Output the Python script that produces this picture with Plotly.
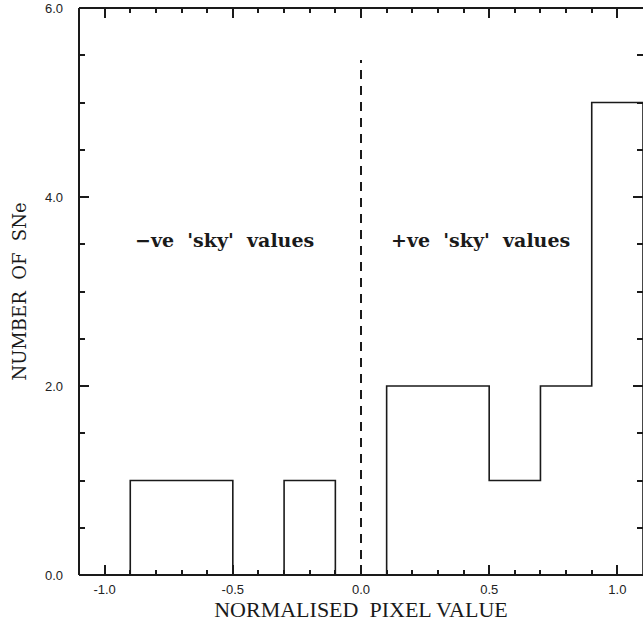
import plotly.graph_objects as go

# Histogram of normalised pixel values at supernova positions
bin_edges = [-0.9, -0.7, -0.5, -0.3, -0.1, 0.1, 0.3, 0.5, 0.7, 0.9, 1.1]
counts = [1, 1, 0, 1, 0, 2, 2, 1, 2, 5]

x_ticks = [-1.0, -0.5, 0.0, 0.5, 1.0]
x_tick_labels = ["-1.0", "-0.5", "0.0", "0.5", "1.0"]
y_ticks = [0, 2, 4, 6]
y_tick_labels = ["0.0", "2.0", "4.0", "6.0"]

divider_x = 0.0
divider_top = 5.45

ink = "#1a1a1a"
sp = "\u00a0"

# Step outline: start on the baseline, walk the bins, drop back to the baseline
step_x = [bin_edges[0]] + bin_edges
step_y = [0] + counts + [0]

fig = go.Figure()
fig.add_trace(go.Scatter(
    x=step_x, y=step_y, mode="lines", line_shape="hv",
    line=dict(color=ink, width=1.6), showlegend=False, hoverinfo="skip",
))
fig.add_trace(go.Scatter(
    x=[divider_x, divider_x], y=[0, divider_top], mode="lines",
    line=dict(color=ink, width=2, dash="9px,7px"), showlegend=False, hoverinfo="skip",
))

label_font = dict(family="DejaVu Serif", size=19, color=ink)
fig.add_annotation(x=-0.533, y=3.545, text=f"<b>\u2212ve{sp*2}'sky'{sp*2}values</b>", showarrow=False,
                   font=label_font, xanchor="center", yanchor="middle")
fig.add_annotation(x=0.468, y=3.545, text=f"<b>+ve{sp*2}'sky'{sp*2}values</b>", showarrow=False,
                   font=label_font, xanchor="center", yanchor="middle")

# Frame: left, bottom and top edges (the right edge falls at the page border)
for x0, y0, x1, y1 in [(0, 0, 0, 1), (0, 0, 1, 0), (0, 1, 1, 1)]:
    fig.add_shape(type="line", xref="paper", yref="paper", x0=x0, y0=y0, x1=x1, y1=y1,
                  line=dict(color=ink, width=2), layer="above")

axis_common = dict(
    showline=False, mirror="ticks",
    ticks="inside", tickcolor=ink, tickwidth=1.5, ticklen=10,
    showgrid=False, zeroline=False,
    tickfont=dict(family="Liberation Sans", size=13, color="#222"),
)

fig.update_xaxes(
    range=[-1.1, 1.1], tickvals=x_ticks, ticktext=x_tick_labels,
    minor=dict(dtick=0.1, tick0=0, ticks="inside", ticklen=5, tickwidth=1.5, tickcolor=ink),
    ticklabelstandoff=5,
    title=dict(text=f"NORMALISED{sp*2}PIXEL VALUE", standoff=5,
               font=dict(family="Liberation Serif", size=22, color=ink)),
    **axis_common,
)
fig.update_yaxes(
    range=[0, 6], tickvals=y_ticks, ticktext=y_tick_labels,
    minor=dict(dtick=0.5, tick0=0, ticks="inside", ticklen=6, tickwidth=1.5, tickcolor=ink),
    ticklabelstandoff=15,
    title=dict(text=f"NUMBER{sp*2}OF{sp*2}SNe", standoff=13,
               font=dict(family="DejaVu Serif", size=18, color=ink)),
    **axis_common,
)

fig.update_layout(
    width=643, height=631,
    margin=dict(l=79, r=0, t=8, b=56),
    plot_bgcolor="white", paper_bgcolor="white",
)

fig.write_html("out.html")
